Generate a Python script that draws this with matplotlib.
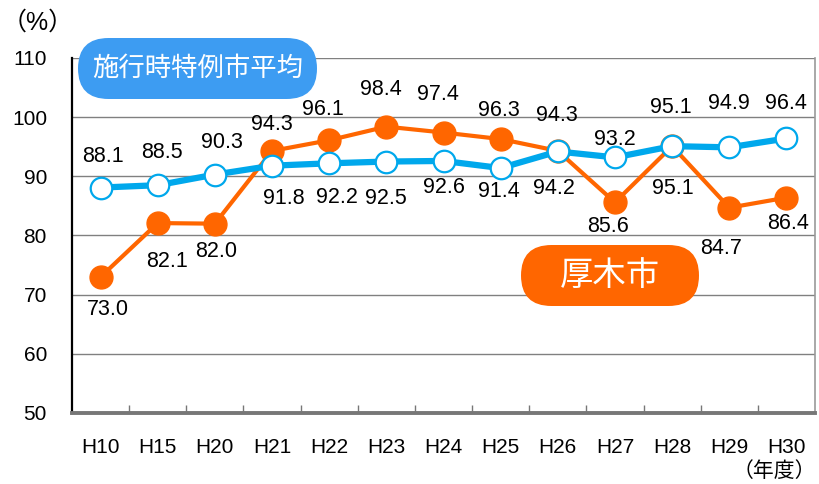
import matplotlib
matplotlib.use("Agg")
import matplotlib.pyplot as plt
from matplotlib.patches import FancyBboxPatch
from matplotlib.ticker import FixedLocator

plt.rcParams['font.family'] = ['Liberation Sans', 'Noto Sans CJK JP', 'DejaVu Sans']

# ---- dados ----
anos = ["H10", "H15", "H20", "H21", "H22", "H23", "H24",
        "H25", "H26", "H27", "H28", "H29", "H30"]
media_tokurei = [88.1, 88.5, 90.3, 91.8, 92.2, 92.5, 92.6,
                 91.4, 94.2, 93.2, 95.1, 94.9, 96.4]
atsugi = [73.0, 82.1, 82.0, 94.3, 96.1, 98.4, 97.4,
          96.3, 94.3, 85.6, 95.1, 84.7, 86.4]

# deslocamento dos rótulos (pixels)
offs_azul = [(2, 31), (4, 33), (7, 32), (12, -33), (8, -34), (0, -37), (0, -27),
             (-2, -23), (-4, -37), (0, 18), (1, -42), (0, 44), (0, 35)]
offs_laranja = [(7, -33), (9, -38), (1, -28), (0, 26), (-6, 31), (-5, 37), (-6, 38),
                (-2, 29), (-1, 35), (-7, -24), (-1, 39), (-8, -41), (2, -26)]

cor_azul = "#00a8ec"
cor_laranja = "#ff6600"

fig = plt.figure(figsize=(8.19, 4.84), dpi=100)
ax = fig.add_axes([72 / 819, 71 / 484, 743 / 819, 355 / 484])

x = list(range(len(anos)))
ax.plot(x, atsugi, color=cor_laranja, lw=3, marker="o", ms=16.5,
        markerfacecolor=cor_laranja, markeredgecolor=cor_laranja, zorder=3)
ax.plot(x, media_tokurei, color=cor_azul, lw=4.5, marker="o", ms=15.5,
        markerfacecolor="white", markeredgecolor=cor_azul, markeredgewidth=1.6,
        zorder=4)

for i in x:
    ax.annotate(f"{media_tokurei[i]:.1f}", (i, media_tokurei[i]),
                xytext=offs_azul[i], textcoords="offset pixels",
                ha="center", va="center", fontsize=15.5, zorder=5)
    ax.annotate(f"{atsugi[i]:.1f}", (i, atsugi[i]),
                xytext=offs_laranja[i], textcoords="offset pixels",
                ha="center", va="center", fontsize=15.5, zorder=5)

ax.set_xlim(-0.5, len(anos) - 0.5)
ax.set_ylim(50, 110)
ax.set_yticks(range(50, 111, 10))
ax.set_xticks(x)
ax.set_xticklabels(anos)
ax.xaxis.set_minor_locator(FixedLocator([i + 0.5 for i in range(len(anos) - 1)]))
ax.tick_params(axis="x", which="major", length=0, pad=18, labelsize=15)
ax.tick_params(axis="x", which="minor", direction="in", length=6,
               color="#777777", width=1)
ax.tick_params(axis="y", length=0, pad=18, labelsize=15)
ax.grid(axis="y", color="#808080", lw=1)
ax.set_axisbelow(True)

ax.spines["top"].set_visible(False)
ax.spines["right"].set_color("#999999")
ax.spines["right"].set_linewidth(1.2)
ax.spines["left"].set_color("black")
ax.spines["left"].set_linewidth(1.6)
ax.spines["bottom"].set_color("#777777")
ax.spines["bottom"].set_linewidth(2.8)

# caixas de legenda arredondadas (formato cápsula)
caixa_azul = FancyBboxPatch((0.78, 3.85), 2.39, 0.61,
                            boxstyle="round,pad=0,rounding_size=0.305",
                            transform=fig.dpi_scale_trans,
                            facecolor="#3d9cf2", edgecolor="none", zorder=10)
fig.patches.append(caixa_azul)
fig.text(1.975, 4.15, "施行時特例市平均", transform=fig.dpi_scale_trans,
         ha="center", va="center", fontsize=19, color="white", zorder=11)

caixa_laranja = FancyBboxPatch((5.21, 1.78), 1.78, 0.61,
                               boxstyle="round,pad=0,rounding_size=0.305",
                               transform=fig.dpi_scale_trans,
                               facecolor=cor_laranja, edgecolor="none", zorder=10)
fig.patches.append(caixa_laranja)
fig.text(6.10, 2.08, "厚木市", transform=fig.dpi_scale_trans,
         ha="center", va="center", fontsize=24, color="white", zorder=11)

fig.text(0.02, 4.61, "（%）", transform=fig.dpi_scale_trans,
         ha="left", va="center", fontsize=18)
fig.text(8.16, 0.13, "（年度）", transform=fig.dpi_scale_trans,
         ha="right", va="center", fontsize=15)

fig.savefig("out.png", dpi=100)
